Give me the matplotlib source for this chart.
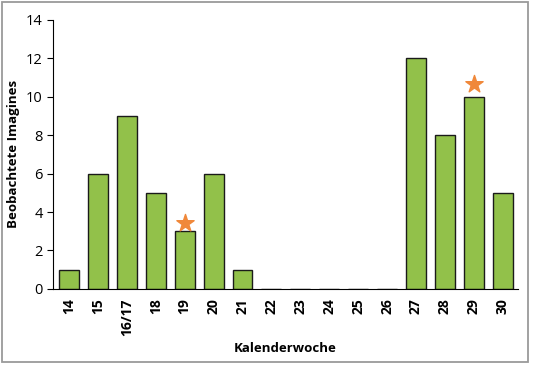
import matplotlib.pyplot as plt
from matplotlib.patches import Rectangle

plt.rcParams['font.family'] = ['Open Sans', 'DejaVu Sans']

weeks = ['14', '15', '16/17', '18', '19', '20', '21', '22', '23', '24', '25', '26',
         '27', '28', '29', '30']
counts = [1, 6, 9, 5, 3, 6, 1, 0, 0, 0, 0, 0, 12, 8, 10, 5]
star_weeks = ['19', '29']
star_values = [3.45, 10.65]

fig = plt.figure(figsize=(5.36, 3.68), dpi=100)
ax = fig.add_axes([0.099, 0.215, 0.867, 0.731])

# grey frame round the whole chart
fig.patches.append(Rectangle((0.004, 0.016), 0.982, 0.978, transform=fig.transFigure,
                             fill=False, edgecolor='#9a9a9a', linewidth=1.3))

x = list(range(len(weeks)))
ax.bar(x, counts, width=0.69, color='#92c14a', edgecolor='#1a1a1a', linewidth=1)

sx = [weeks.index(w) for w in star_weeks]
ax.scatter(sx, star_values, marker='*', s=170, color='#f0883a', zorder=3)

ax.set_xlim(-0.55, len(weeks) - 0.48)
ax.set_ylim(0, 14)
ax.set_yticks(range(0, 15, 2))
ax.set_xticks(x)
ax.set_xticklabels(weeks, rotation=90, fontweight='bold', fontsize=10)
ax.tick_params(axis='x', length=0, pad=7)
ax.tick_params(axis='y', labelsize=10.5, length=4, direction='out')

ax.spines['top'].set_visible(False)
ax.spines['right'].set_visible(False)

ax.set_xlabel('Kalenderwoche', fontweight='bold', fontsize=9.5)
ax.set_ylabel('Beobachtete Imagines', fontweight='bold', fontsize=9.5)

fig.savefig('out.png', dpi=100)
